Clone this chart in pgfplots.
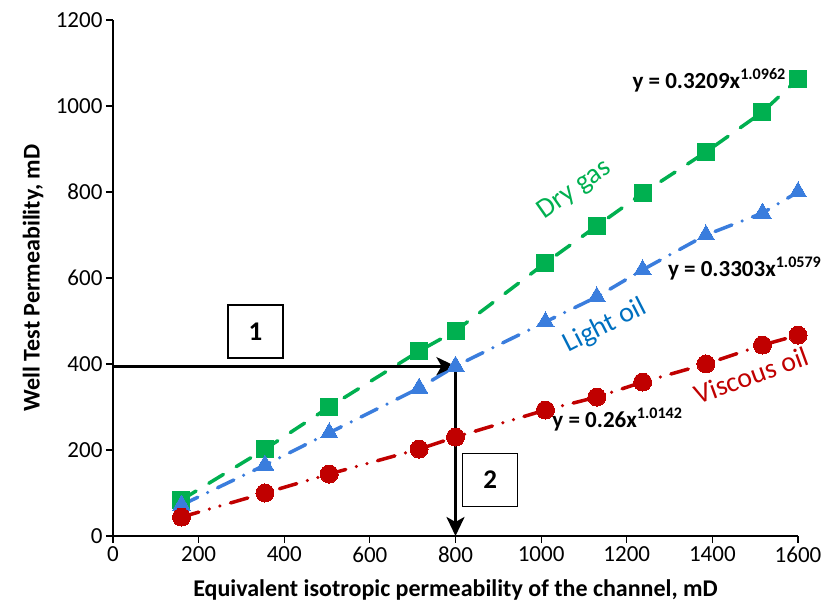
\documentclass[border=0pt]{standalone}
\usepackage{pgfplots}
\pgfplotsset{compat=1.18}
\usepackage{fontspec}
\setmainfont{Carlito}
\usetikzlibrary{arrows.meta}
\definecolor{cgreen}{RGB}{0,176,80}
\definecolor{cblue}{RGB}{58,125,221}
\definecolor{cbluet}{RGB}{0,112,192}
\definecolor{cred}{RGB}{192,0,0}
\pgfplotstableread{
x y
160 84
355 202
505 300
715 430
800 477
1010 635
1130 721
1237 797
1385 893
1517 986
1600 1063
}\drygas
\pgfplotstableread{
x y
160 72
355 165
505 240
715 344
800 395
1010 498
1130 556
1237 619
1385 700
1517 751
1600 800
}\lightoil
\pgfplotstableread{
x y
160 44
355 100
505 144
715 202
800 230
1010 293
1130 323
1237 358
1385 400
1517 444
1600 467
}\viscous
\begin{document}
\begin{tikzpicture}
\begin{axis}[
  at={(0pt,0pt)}, anchor=south west,
  scale only axis, width=685pt, height=516pt,
  xmin=0, xmax=1600, ymin=0, ymax=1200,
  xtick distance=200, ytick distance=200,
  axis x line=bottom, axis y line=left,
  axis line style={-, line width=1.2pt, black},
  tick style={line width=1.2pt, black},
  tick align=outside, major tick length=7pt,
  tick label style={font=\fontsize{23}{27}\selectfont},
  /pgf/number format/assume math mode=true,
  /pgf/number format/1000 sep={},
  xlabel={Equivalent isotropic permeability of the channel, mD},
  ylabel={Well Test Permeability, mD},
  every axis x label/.style={at={(axis description cs:0.5,0)}, anchor=center, yshift=-54pt, font=\bfseries\fontsize{24}{28}\selectfont},
  every axis y label/.style={at={(axis description cs:0,0.5)}, rotate=90, anchor=center, yshift=80pt, font=\bfseries\fontsize{24}{28}\selectfont},
  clip=false,
]
\addplot[cgreen, line width=3.5pt, line cap=round, dash pattern=on 17pt off 15pt,
  mark=square*, mark size=8.5pt, mark options={solid, fill=cgreen, draw=cgreen, line width=0pt}] table {\drygas};
\addplot[cblue, line width=3.5pt, line cap=round, dash pattern=on 18pt off 11pt on 0pt off 11pt,
  mark=triangle*, mark size=10pt, mark options={solid, fill=cblue, draw=cblue, line width=0pt}] table {\lightoil};
\addplot[cred, line width=3.5pt, line cap=round, dash pattern=on 18pt off 11pt on 0pt off 11pt on 0pt off 11pt,
  mark=*, mark size=9pt, mark options={solid, fill=cred, draw=cred, line width=0pt}] table {\viscous};

\draw[black, line width=3pt, -{Stealth[length=19pt, width=18pt, inset=5pt]}] (axis cs:0,395) -- (axis cs:800,395);
\draw[black, line width=3pt, -{Stealth[length=19pt, width=18pt, inset=5pt]}] (axis cs:800,395) -- (axis cs:800,0);

\node[draw=black, line width=1.5pt, fill=white, minimum width=55pt, minimum height=53pt, font=\bfseries\fontsize{27}{30}\selectfont] at (axis cs:333,476) {1};
\node[draw=black, line width=1.5pt, fill=white, minimum width=55pt, minimum height=53pt, font=\bfseries\fontsize{27}{30}\selectfont] at (axis cs:881,130) {2};

\node[anchor=west, font=\bfseries\fontsize{23}{26}\selectfont, inner sep=0pt] at (axis cs:1213,1060) {y = 0.3209x\textsuperscript{1.0962}};
\node[anchor=west, font=\bfseries\fontsize{23}{26}\selectfont, inner sep=0pt] at (axis cs:1296,623) {y = 0.3303x\textsuperscript{1.0579}};
\node[anchor=west, font=\bfseries\fontsize{23}{26}\selectfont, inner sep=0pt] at (axis cs:1026,270) {y = 0.26x\textsuperscript{1.0142}};

\node[cgreen, rotate=35, font=\fontsize{28}{30}\selectfont] at (axis cs:1079,805) {Dry gas};
\node[cbluet, rotate=27, font=\fontsize{28}{30}\selectfont] at (axis cs:1150,488) {Light oil};
\node[cred, rotate=20, font=\fontsize{28}{30}\selectfont] at (axis cs:1491,374) {Viscous oil};
\end{axis}
\pgfresetboundingbox
\path (-113pt,-72pt) rectangle (715pt,536pt);
\end{tikzpicture}
\end{document}
